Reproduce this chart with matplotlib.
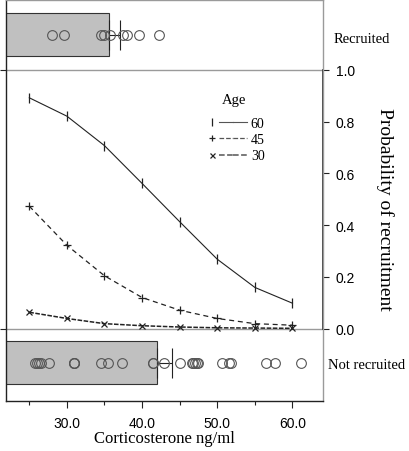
import matplotlib.pyplot as plt
from matplotlib.legend_handler import HandlerTuple
from matplotlib.lines import Line2D
import matplotlib.transforms as mtransforms

# corticosterone values of individual birds (ng/ml)
recruited = [28.0, 29.6, 34.6, 34.9, 35.7, 37.5, 38.0, 39.6, 42.2]
not_recruited = [25.7, 26.0, 26.3, 26.6, 27.6, 31.0, 31.0, 31.0, 34.6, 35.5, 37.3,
                 41.4, 41.5, 42.9, 45.0, 46.6, 46.8, 47.1, 47.3, 47.5, 50.6, 51.5,
                 51.8, 56.5, 57.7, 61.2]
group_mean = [35.6, 42.0]   # recruited, not recruited
group_se = [1.5, 2.0]

# predicted probability of recruitment by age
cort = [25, 30, 35, 40, 45, 50, 55, 60]
p_age60 = [0.892, 0.821, 0.707, 0.561, 0.413, 0.268, 0.159, 0.098]
p_age45 = [0.473, 0.322, 0.204, 0.120, 0.071, 0.039, 0.019, 0.013]
p_age30 = [0.063, 0.039, 0.019, 0.011, 0.006, 0.003, 0.002, 0.001]

serif = 'Liberation Serif'
sans = 'Liberation Sans'
dark = '#222222'
grey = '#9a9a9a'

fig = plt.figure(figsize=(4.1, 4.52), dpi=100)
ax = fig.add_axes([0.0146, 0.1106, 0.7739, 0.8872])
ax.set_xlim(21.9, 64.1)
ax.set_ylim(-0.28, 1.27)

# reference lines at 0 and 1
ax.axhline(1.0, color=grey, lw=1.0, zorder=1)
ax.axhline(0.0, color=grey, lw=1.0, zorder=1)

# group bars with points and SE
y_rec, y_not = 1.136, -0.132
bar_h = 0.167
for y, vals, m, se in [(y_rec, recruited, group_mean[0], group_se[0]),
                       (y_not, not_recruited, group_mean[1], group_se[1])]:
    ax.barh(y, m, height=bar_h, color='#c0c0c0', edgecolor='#333333', lw=0.8, zorder=2)
    ax.errorbar(m, y, xerr=[[0], [se]], fmt='none', ecolor=dark, elinewidth=0.8,
                capsize=10.5, capthick=0.8, zorder=3)
    ax.plot(vals, [y] * len(vals), 'o', mfc='none', mec='#555555', ms=7, mew=0.8, zorder=4)

# probability curves
l60, = ax.plot(cort, p_age60, color=dark, lw=0.8, ls='-', marker='|', ms=7, mew=0.9)
l45, = ax.plot(cort, p_age45, color=dark, lw=0.9, ls=(0, (4, 3)), marker='+', ms=6, mew=0.9)
l30, = ax.plot(cort, p_age30, color=dark, lw=1.1, ls=(0, (3, 1)), marker='x', ms=4.5, mew=0.9)

# legend: marker first, then the line
def parts(line):
    mk = Line2D([], [], ls='none', marker=line.get_marker(), ms=line.get_markersize() * 0.8,
                mew=line.get_markeredgewidth(), color=dark)
    ln = Line2D([], [], ls=line.get_linestyle(), lw=line.get_linewidth(), color='#555555')
    return (mk, ln, ln)

leg = ax.legend([parts(l60), parts(l45), parts(l30)], ['60', '45', '30'],
                handler_map={tuple: HandlerTuple(ndivide=None, pad=0)},
                loc='upper left', bbox_to_anchor=(0.627, 0.7075),
                frameon=False, prop={'family': serif, 'size': 10},
                borderaxespad=0, borderpad=0,
                handlelength=3.0, handletextpad=0.3, labelspacing=0.22)
ax.text(234, 0.885, 'Age', transform=mtransforms.blended_transform_factory(
        mtransforms.IdentityTransform(), ax.transData),
        ha='center', va='center', fontfamily=serif, fontsize=10.5)

# spines
for s in ['left', 'bottom']:
    ax.spines[s].set_color(dark)
    ax.spines[s].set_linewidth(1.0)
for s in ['top', 'right']:
    ax.spines[s].set_color(grey)
    ax.spines[s].set_linewidth(1.0)
trans = mtransforms.blended_transform_factory(ax.transAxes, ax.transData)
ax.plot([1, 1], [0, 1], transform=trans, color=dark, lw=1.2, clip_on=False)

# right probability axis
ax.yaxis.tick_right()
ax.set_yticks([0.0, 0.2, 0.4, 0.6, 0.8, 1.0])
ax.set_yticklabels(['0.0', '0.2', '0.4', '0.6', '0.8', '1.0'], fontfamily=sans)
ax.tick_params(axis='y', direction='out', length=4, width=0.8, color=dark,
               labelsize=10, pad=5)
sec = ax.secondary_yaxis('left')
sec.set_yticks([0.0, 1.0])
sec.set_yticklabels(['', ''])
sec.tick_params(direction='out', length=4, width=0.8, color=dark)
sec.spines['left'].set_visible(False)

# x axis
ax.set_xticks([30, 40, 50, 60])
ax.set_xticklabels(['30.0', '40.0', '50.0', '60.0'], fontfamily=sans)
ax.set_xticks([25, 35, 45, 55], minor=True)
ax.tick_params(axis='x', which='major', direction='out', length=5, width=0.8,
               color=dark, labelsize=10, pad=6)
ax.tick_params(axis='x', which='minor', direction='out', length=3, width=0.8, color=dark)
ax.set_xlabel('Corticosterone ng/ml', fontfamily=serif, fontsize=12, labelpad=0)

# side labels
ax.text(1.194, 0.466, 'Probability of recruitment', transform=trans, rotation=270,
        ha='center', va='center', fontfamily=serif, fontsize=14)
ax.text(1.031, 1.12, 'Recruited', transform=trans, ha='left', va='center',
        fontfamily=serif, fontsize=10.5)
ax.text(1.015, -0.138, 'Not recruited', transform=trans, ha='left', va='center',
        fontfamily=serif, fontsize=10.5)

fig.savefig('out.png', dpi=100)
